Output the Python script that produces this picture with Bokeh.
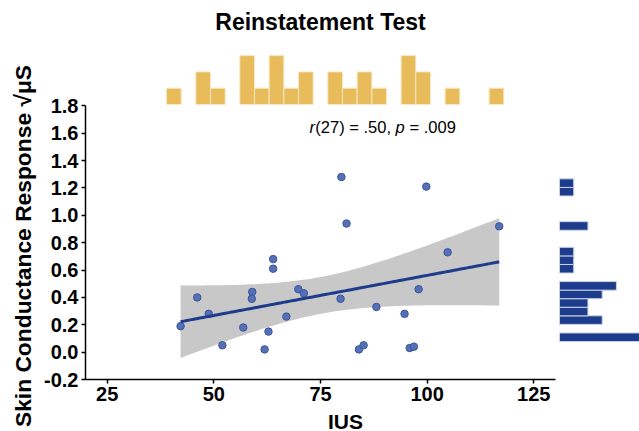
import numpy as np
from bokeh.plotting import figure
from bokeh.models import Range1d, FixedTicker, Label
from bokeh.layouts import column, row
from bokeh.embed import file_html
from bokeh.resources import INLINE

# ---------------- data ----------------
ius = [79.9, 99.8, 81.1, 116.9, 104.8, 63.9, 63.9, 46.1, 59.0, 58.9, 69.8, 71.1, 79.7, 98.0,
       88.1, 94.7, 48.8, 42.2, 56.9, 67.0, 62.8, 52.0, 61.9, 84.0, 85.1, 95.9, 96.9]
scr = [1.28, 1.21, 0.94, 0.92, 0.73, 0.68, 0.61, 0.40, 0.44, 0.39, 0.46, 0.43, 0.39, 0.46,
       0.33, 0.28, 0.28, 0.19, 0.18, 0.26, 0.15, 0.05, 0.02, 0.02, 0.05, 0.03, 0.04]

# marginal histogram counts (top: IUS bins left->right, right: SCR bins bottom->top)
top_hist_counts = [1, 0, 2, 1, 0, 3, 1, 3, 1, 2, 0, 2, 1, 2, 1, 0, 3, 2, 0, 1, 0, 0, 1]
right_hist_counts = [6, 0, 3, 2, 2, 3, 4, 0, 1, 1, 1, 0, 0, 2, 0, 0, 0, 1, 1]

x_ticks = [25, 50, 75, 100, 125]
x_bounds = (20, 130)
y_ticks = [-0.2, 0.0, 0.2, 0.4, 0.6, 0.8, 1.0, 1.2, 1.4, 1.6, 1.8]
y_tick_labels = ["-0.2", "0.0", "0.2", "0.4", "0.6", "0.8", "1.0", "1.2", "1.4", "1.6", "1.8"]
y_bounds = (-0.2, 1.8)

title_text = "Reinstatement Test"
x_label = "IUS"
y_label = "Skin Conductance Response \u221a\u03bcS"
t_crit = 2.06  # t(0.975, df = n - 2)

FONT = "Liberation Sans"
GOLD = "#E8BC5A"
NAVY = "#1E3C8C"


class Lin:
    """linear pixel <-> value mapping for one direction of a figure frame"""
    def __init__(self, p0, v0, ppu, lo, hi, up=False):
        self.p0, self.v0, self.ppu, self.up = p0, v0, ppu, up
        self.lo, self.hi = lo, hi

    def val(self, px):
        d = (self.p0 - px) if self.up else (px - self.p0)
        return self.v0 + d / self.ppu

    def rng(self):
        if self.up:
            return Range1d(self.val(self.hi), self.val(self.lo))
        return Range1d(self.val(self.lo), self.val(self.hi))


def bare(fig):
    fig.outline_line_color = None
    fig.grid.visible = False
    fig.axis.visible = False
    fig.background_fill_color = "white"
    fig.border_fill_color = "white"


# ---------------- geometry ----------------
LAB_W = 38                 # strip holding the y-axis title
BIG_W = 639 - LAB_W        # scatter + marginal histograms
BIG_H = 410
XLAB_H = 431 - BIG_H       # strip holding the x-axis title
B_LEFT, B_BOTTOM = 47, 31
FR_B = BIG_H - B_BOTTOM    # frame bottom (figure px)
OX = LAB_W                 # page x of the big figure

def fx(page_x):
    return page_x - OX

mx = Lin(fx(106.7), 25, 4.266, B_LEFT, BIG_W)
my = Lin(FR_B, y_bounds[0], 136.8, 0, FR_B, up=True)

big = figure(width=BIG_W, height=BIG_H, output_backend="svg", toolbar_location=None,
             min_border_left=B_LEFT, min_border_right=0, min_border_top=0,
             min_border_bottom=B_BOTTOM, x_range=mx.rng(), y_range=my.rng())
big.outline_line_color = None
big.grid.visible = False
big.background_fill_color = "white"
big.border_fill_color = "white"

tx = Lin(fx(166.0), 0, 14.665, B_LEFT, BIG_W)
ty = Lin(104.0, 0, 16.3, 0, FR_B, up=True)
rx = Lin(fx(559.0), 0, 14.23, B_LEFT, BIG_W)
ry = Lin(341.0, 0, 8.56, 0, FR_B, up=True)
big.extra_x_ranges = {"top_x": tx.rng(), "right_x": rx.rng()}
big.extra_y_ranges = {"top_y": ty.rng(), "right_y": ry.rng()}

# regression line with 95% confidence band
x = np.array(ius, dtype=float)
y = np.array(scr, dtype=float)
n = len(x)
b, a = np.polyfit(x, y, 1)
xs = np.linspace(x.min(), x.max(), 100)
yhat = a + b * xs
s = np.sqrt(np.sum((y - (a + b * x)) ** 2) / (n - 2))
se = s * np.sqrt(1.0 / n + (xs - x.mean()) ** 2 / np.sum((x - x.mean()) ** 2))
big.varea(x=xs, y1=yhat - t_crit * se, y2=yhat + t_crit * se, fill_color="#C8C8C8")
big.scatter(x=ius, y=scr, size=7.5, fill_color="#5671B3", line_color="#3A55A0", line_width=1)
big.line(xs, yhat, line_color=NAVY, line_width=3)

# marginal histograms
tl = [i for i, c in enumerate(top_hist_counts) if c > 0]
big.quad(left=tl, right=[i + 1 for i in tl], bottom=0, top=[top_hist_counts[i] for i in tl],
         fill_color=GOLD, line_color="#F7E7C4", line_width=1,
         x_range_name="top_x", y_range_name="top_y")
rl = [i for i, c in enumerate(right_hist_counts) if c > 0]
big.quad(bottom=rl, top=[i + 1 for i in rl], left=0, right=[right_hist_counts[i] for i in rl],
         fill_color=NAVY, line_color="#C9D1E6", line_width=1,
         x_range_name="right_x", y_range_name="right_y")

# axes
for ax in (big.xaxis, big.yaxis):
    ax.axis_line_width = 1.5
    ax.axis_line_color = "black"
    ax.major_tick_line_width = 1.5
    ax.major_tick_line_color = "black"
    ax.major_tick_in = 0
    ax.major_tick_out = 4
    ax.minor_tick_line_color = None
    ax.major_label_text_font = FONT
    ax.major_label_text_font_style = "bold"
    ax.major_label_text_font_size = "20px"
    ax.major_label_text_color = "black"
    ax.major_label_standoff = 3
big.xaxis.bounds = x_bounds
big.xaxis.ticker = FixedTicker(ticks=x_ticks)
big.yaxis.bounds = y_bounds
big.yaxis.ticker = FixedTicker(ticks=y_ticks)
big.yaxis.major_label_overrides = {t: l for t, l in zip(y_ticks, y_tick_labels)}

# title and statistics annotation
big.add_layout(Label(x=sum(x_bounds) / 2, y=my.val(21), text=title_text,
                     text_align="center", text_baseline="middle", text_font=FONT,
                     text_font_style="bold", text_font_size="23px", text_color="black"))
ann_pieces = [("r", "italic", 0), ("(27) = .50,", "normal", 5.8),
              ("p", "italic", 86.0), ("= .009", "normal", 100.0)]
for txt, style, off in ann_pieces:
    big.add_layout(Label(x=mx.val(fx(309)), y=my.val(126), x_offset=off, text=txt,
                         text_align="left", text_baseline="middle", text_font=FONT,
                         text_font_style=style, text_font_size="16.5px", text_color="black"))

# ---------------- axis-title strips (ranges in pixels, y measured upward) ----------------
ylab = figure(width=LAB_W, height=431, output_backend="svg", toolbar_location=None,
              min_border=0, x_range=Range1d(0, LAB_W), y_range=Range1d(0, 431))
bare(ylab)
ylab.add_layout(Label(x=22.5, y=431 - 245.5, text=y_label, angle=np.pi / 2,
                      text_align="center", text_baseline="middle", text_font=FONT,
                      text_font_style="bold", text_font_size="22.8px", text_color="black"))

xlab = figure(width=BIG_W, height=XLAB_H, output_backend="svg", toolbar_location=None,
              min_border=0, x_range=Range1d(0, BIG_W), y_range=Range1d(0, XLAB_H))
bare(xlab)
xlab.add_layout(Label(x=fx(320), y=431 - 420.5, text=x_label, text_align="center",
                      text_baseline="middle", text_font=FONT, text_font_style="bold",
                      text_font_size="21px", text_color="black"))

layout = row(ylab, column(big, xlab, spacing=0), spacing=0)
open("out.html", "w").write(file_html(layout, INLINE))
